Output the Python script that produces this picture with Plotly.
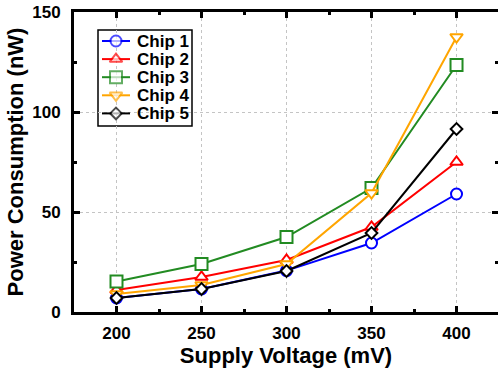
import plotly.graph_objects as go

voltage = [200, 250, 300, 350, 400]
chip1 = [7.0, 11.5, 20.7, 34.5, 59.0]
chip2 = [11.0, 17.5, 26.0, 42.5, 75.0]
chip3 = [15.3, 24.0, 37.5, 62.0, 123.5]
chip4 = [9.0, 13.5, 24.0, 59.5, 137.5]
chip5 = [7.0, 11.5, 20.5, 39.5, 91.5]

names = ["Chip 1", "Chip 2", "Chip 3", "Chip 4", "Chip 5"]
series = [chip1, chip2, chip3, chip4, chip5]
colors = ["#0000ff", "#ff0000", "#228b22", "#ffa500", "#000000"]
symbols = ["circle", "triangle-up", "square", "triangle-down", "diamond"]
sizes = [11, 11, 12, 11, 9]

font_family = "Liberation Sans, Arial, sans-serif"
tickfont = dict(family=font_family, size=17, color="black", weight="bold")
titlefont = dict(family=font_family, size=22, color="black", weight="bold")

# plot area in pixels
W, H = 498, 371
ML, MR, MT, MB = 74, 0, 12, 59
PW, PH = W - ML - MR, H - MT - MB


def px_x(p):
    return (p - ML) / PW


def px_y(p):
    return (H - MB - p) / PH


fig = go.Figure()
for n, s, c, sym, sz in zip(names, series, colors, symbols, sizes):
    fig.add_trace(go.Scatter(
        x=voltage, y=s, name=n, mode="lines+markers",
        line=dict(color=c, width=2),
        marker=dict(symbol=sym, size=sz, color="white", line=dict(color=c, width=2)),
        showlegend=False,
    ))

# right-side mirrored ticks host
fig.add_trace(go.Scatter(x=[voltage[0]], y=[0], yaxis="y2", showlegend=False,
                         mode="markers", marker=dict(opacity=0), hoverinfo="skip"))

# manual legend (pixel-space overlay axes)
LX0, LX1, LY0, LY1 = 98, 192, 30, 126
row0, rowgap = 41, 18.1
for i, (n, c, sym, sz) in enumerate(zip(names, colors, symbols, sizes)):
    yy = row0 + i * rowgap
    fig.add_trace(go.Scatter(
        x=[102, 116, 130], y=[yy, yy, yy], xaxis="x2", yaxis="y3",
        mode="lines+markers", showlegend=False, hoverinfo="skip",
        line=dict(color=c, width=2),
        marker=dict(symbol=sym, size=[0, sz, 0], color="white",
                    line=dict(color=c, width=[0, 2, 0])),
    ))
    fig.add_annotation(x=px_x(135), y=px_y(yy), xref="paper", yref="paper", text=n,
                       showarrow=False, xanchor="left", yanchor="middle",
                       font=dict(family=font_family, size=17, color="black", weight="bold"))

fig.add_shape(type="rect", x0=px_x(LX0), x1=px_x(LX1), y0=px_y(LY1), y1=px_y(LY0),
              xref="paper", yref="paper",
              line=dict(color="black", width=1.5), fillcolor="white", layer="between")

fig.update_layout(
    width=W, height=H,
    margin=dict(l=ML, r=MR, t=MT, b=MB),
    plot_bgcolor="white", paper_bgcolor="white",
    showlegend=False,
    xaxis=dict(
        range=[175, 424.4],
        tickvals=[200, 250, 300, 350, 400],
        ticks="inside", ticklen=6, tickwidth=3, tickcolor="black",
        showline=True, linewidth=3, linecolor="black", mirror="ticks",
        showgrid=True, gridcolor="#c4c4c4", griddash="dot", gridwidth=1,
        zeroline=False,
        minor=dict(tickvals=[225, 275, 325, 375], ticks="inside", ticklen=3,
                   tickwidth=3, tickcolor="black", showgrid=False),
        tickfont=tickfont, ticklabelstandoff=4,
        title=dict(text="Supply Voltage (mV)", font=titlefont, standoff=3),
    ),
    yaxis=dict(
        range=[0, 150],
        tickvals=[0, 50, 100, 150],
        ticks="inside", ticklen=6, tickwidth=3, tickcolor="black",
        showline=True, linewidth=3, linecolor="black",
        showgrid=True, gridcolor="#c4c4c4", griddash="dot", gridwidth=1,
        zeroline=False,
        minor=dict(tickvals=[25, 75, 125], ticks="inside", ticklen=3,
                   tickwidth=3, tickcolor="black", showgrid=False),
        tickfont=tickfont, ticklabelstandoff=7,
        title=dict(text="Power Consumption (nW)", font=titlefont, standoff=3),
    ),
    yaxis2=dict(
        overlaying="y", side="right", range=[0, 150],
        tickvals=[0, 50, 100, 150],
        ticks="inside", ticklen=6, tickwidth=3, tickcolor="black",
        showline=False, showgrid=False, zeroline=False, showticklabels=False,
        minor=dict(tickvals=[25, 75, 125], ticks="inside", ticklen=3,
                   tickwidth=3, tickcolor="black", showgrid=False),
    ),
    xaxis2=dict(overlaying="x", range=[ML, W - MR], visible=False, fixedrange=True),
    yaxis3=dict(overlaying="y", range=[H - MB, MT], visible=False, fixedrange=True),
)

fig.write_html("out.html")
